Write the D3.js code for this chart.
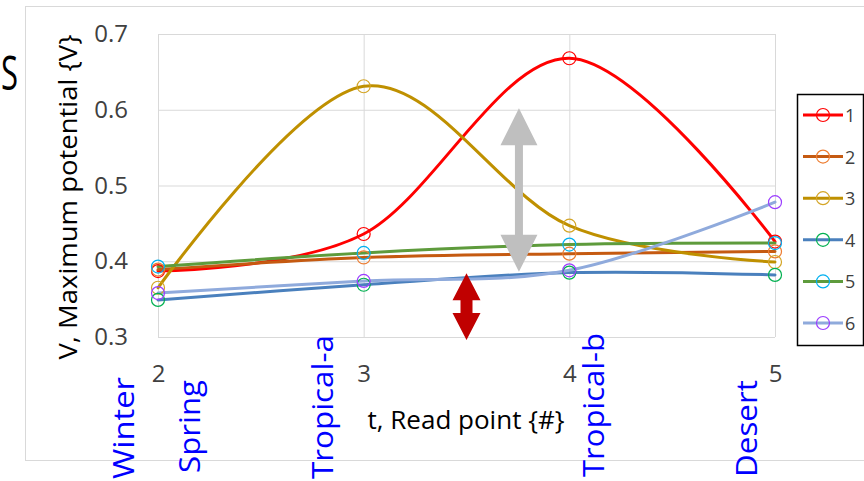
<!DOCTYPE html>
<html lang="en">
<head>
<meta charset="UTF-8">
<title>Maximum potential</title>
<script src="https://cdn.jsdelivr.net/npm/d3@7"></script>
<style>
    body { margin: 0; background: #fff; }
    text { font-family: "Open Sans", "Liberation Sans", sans-serif; }
    .tick-label { fill: #404040; font-size: 24px; }
    .axis-title { fill: #000; }
    .season { fill: #0000ff; font-size: 30px; }
    .legend-label { fill: #404040; font-size: 18px; }
</style>
</head>
<body>
<div id="chart"></div>
<script>
    // read points (x) and the six series
    const readPoints = [2, 3, 4, 5];
    const series1 = [0.387, 0.436, 0.668, 0.426];
    const series2 = [0.389, 0.405, 0.410, 0.413];
    const series3 = [0.365, 0.631, 0.447, 0.399];
    const series4 = [0.349, 0.369, 0.385, 0.382];
    const series5 = [0.393, 0.411, 0.422, 0.424];
    const series6 = [0.358, 0.374, 0.388, 0.478];
    const seriesNames = ["1", "2", "3", "4", "5", "6"];
    const yTicks = [0.3, 0.4, 0.5, 0.6, 0.7];
    const seasons = ["Winter", "Spring", "Tropical-a", "Tropical-b", "Desert"];

    const allSeries = [series1, series2, series3, series4, series5, series6];
    const lineColors = ["#ff0000", "#c55a11", "#bf9000", "#4a80bd", "#5e9b3c", "#8faadc"];
    const markerColors = ["#ff0000", "#ed7d31", "#d4a526", "#00b050", "#00b0f0", "#9b3dff"];

    const W = 864, H = 481;
    const plot = {left: 158, right: 775, top: 34, bottom: 337};

    const svg = d3.select("#chart").append("svg")
        .attr("width", W)
        .attr("height", H);

    const x = d3.scaleLinear().domain([2, 5]).range([plot.left, plot.right]);
    const y = d3.scaleLinear().domain([0.3, 0.7]).range([plot.bottom, plot.top]);

    // chart area border
    svg.append("rect")
        .attr("x", 25.5).attr("y", 6.5)
        .attr("width", W).attr("height", 454)
        .attr("fill", "none")
        .attr("stroke", "#d9d9d9");

    // slide letter at the left edge
    svg.append("text")
        .attr("x", 1).attr("y", 90)
        .attr("textLength", 17)
        .attr("lengthAdjust", "spacingAndGlyphs")
        .style("font-size", "48px")
        .text("S");

    // grid
    svg.append("g")
        .attr("transform", "translate(0," + plot.bottom + ")")
        .call(d3.axisBottom(x).tickValues(readPoints).tickSize(-(plot.bottom - plot.top)).tickFormat(""))
        .call(g => g.select(".domain").remove())
        .call(g => g.selectAll("line").attr("stroke", "#d9d9d9"));
    svg.append("g")
        .attr("transform", "translate(" + plot.left + ",0)")
        .call(d3.axisLeft(y).tickValues(yTicks).tickSize(-(plot.right - plot.left)).tickFormat(""))
        .call(g => g.select(".domain").remove())
        .call(g => g.selectAll("line").attr("stroke", "#d9d9d9"));

    // tick labels
    svg.append("g")
        .attr("transform", "translate(" + (plot.left - 30) + ",0)")
        .call(d3.axisLeft(y).tickValues(yTicks).tickSize(0).tickPadding(0).tickFormat(d3.format(".1f")))
        .call(g => g.select(".domain").remove())
        .call(g => g.selectAll("text").attr("class", "tick-label").attr("font-size", null).attr("font-family", null).attr("fill", null));
    svg.append("g")
        .attr("transform", "translate(0," + (plot.bottom + 28) + ")")
        .call(d3.axisBottom(x).tickValues(readPoints).tickSize(0).tickPadding(0).tickFormat(d3.format("d")))
        .call(g => g.select(".domain").remove())
        .call(g => g.selectAll("text").attr("class", "tick-label").attr("font-size", null).attr("font-family", null).attr("fill", null));

    // axis titles
    svg.append("text")
        .attr("class", "axis-title")
        .attr("transform", "translate(77,197) rotate(-90)")
        .attr("text-anchor", "middle")
        .attr("textLength", 325)
        .attr("lengthAdjust", "spacingAndGlyphs")
        .style("font-size", "26px")
        .text("V, Maximum potential {V}");
    svg.append("text")
        .attr("class", "axis-title")
        .attr("x", 466).attr("y", 429)
        .attr("text-anchor", "middle")
        .attr("textLength", 197)
        .attr("lengthAdjust", "spacingAndGlyphs")
        .style("font-size", "25px")
        .text("t, Read point {#}");

    // lines
    const line = d3.line()
        .x((d, i) => x(readPoints[i]))
        .y(d => y(d))
        .curve(d3.curveCardinal.tension(0));

    allSeries.forEach(function (s, k) {
        svg.append("path")
            .datum(s)
            .attr("fill", "none")
            .attr("stroke", lineColors[k])
            .attr("stroke-width", 3)
            .attr("stroke-linecap", "round")
            .attr("d", line);
    });
    allSeries.forEach(function (s, k) {
        svg.selectAll(null)
            .data(s)
            .enter().append("circle")
            .attr("cx", (d, i) => x(readPoints[i]))
            .attr("cy", d => y(d))
            .attr("r", 6.5)
            .attr("fill", "none")
            .attr("stroke", markerColors[k])
            .attr("stroke-width", 1.2);
    });

    // double arrows, placed in data units
    function doubleArrow(cx, vTop, vBot, headLen, headW, shaftW, color) {
        const px = x(cx), t = y(vTop), b = y(vBot);
        const pts = [
            [px, t], [px + headW / 2, t + headLen], [px + shaftW / 2, t + headLen],
            [px + shaftW / 2, b - headLen], [px + headW / 2, b - headLen], [px, b],
            [px - headW / 2, b - headLen], [px - shaftW / 2, b - headLen],
            [px - shaftW / 2, t + headLen], [px - headW / 2, t + headLen]
        ];
        svg.append("path")
            .attr("d", "M" + pts.join("L") + "Z")
            .attr("fill", color);
    }
    doubleArrow(3.755, 0.602, 0.386, 37, 37, 8, "#bfbfbf");
    doubleArrow(3.5, 0.384, 0.296, 27, 28, 12, "#c00000");

    // season labels (blue, vertical)
    const seasonAt = [1.883, 2.204, 2.851, 4.168, 4.912];
    const seasonStart = [479, 473, 479, 477, 477];
    const seasonLen = [102, 93, 144, 144, 97];
    seasons.forEach(function (s, i) {
        svg.append("text")
            .attr("class", "season")
            .attr("transform", "translate(" + x(seasonAt[i]) + "," + seasonStart[i] + ") rotate(-90)")
            .attr("textLength", seasonLen[i])
            .attr("lengthAdjust", "spacingAndGlyphs")
            .text(s);
    });

    // legend
    const legend = svg.append("g").attr("transform", "translate(797,94)");
    legend.append("rect")
        .attr("x", 0.5).attr("y", 0.5)
        .attr("width", 66).attr("height", 251)
        .attr("fill", "#fff")
        .attr("stroke", "#000")
        .attr("stroke-width", 1.5);
    seriesNames.forEach(function (n, i) {
        const ly = 21 + i * 41.6;
        legend.append("line")
            .attr("x1", 6).attr("x2", 46)
            .attr("y1", ly).attr("y2", ly)
            .attr("stroke", lineColors[i])
            .attr("stroke-width", 3);
        legend.append("circle")
            .attr("cx", 26).attr("cy", ly).attr("r", 6.5)
            .attr("fill", "none")
            .attr("stroke", markerColors[i])
            .attr("stroke-width", 1.2);
        legend.append("text")
            .attr("class", "legend-label")
            .attr("x", 48).attr("y", ly + 7)
            .text(n);
    });
</script>
</body>
</html>
